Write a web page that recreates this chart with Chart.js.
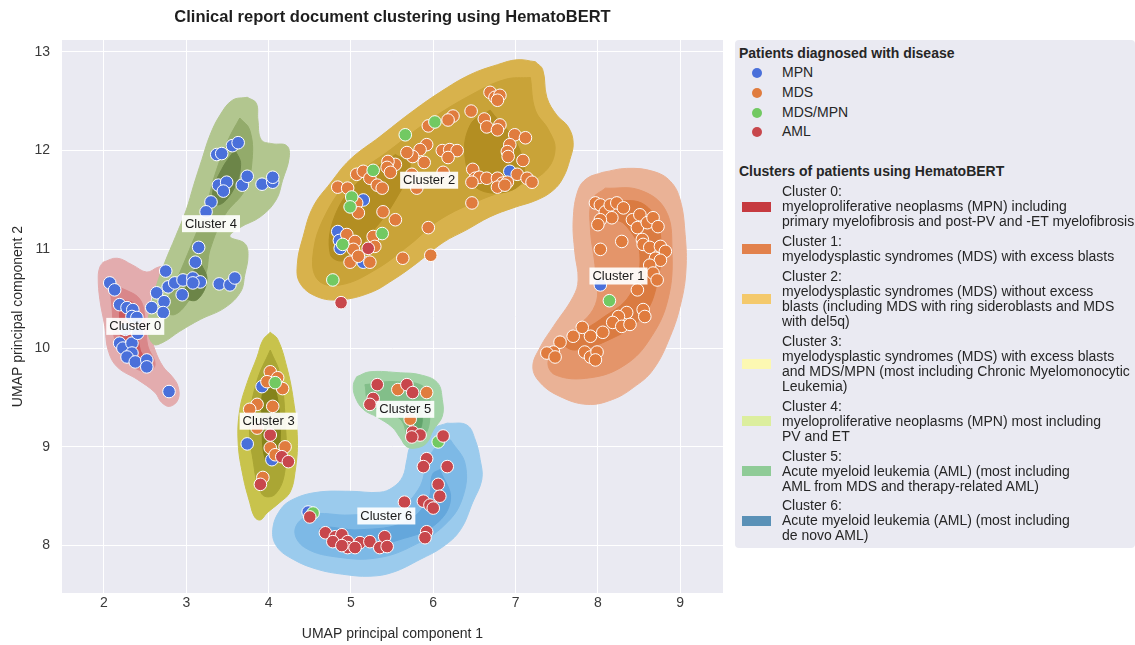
<!DOCTYPE html>
<html>
<head>
<meta charset="utf-8">
<title>Clinical report document clustering using HematoBERT</title>
<script src="https://cdn.jsdelivr.net/npm/chart.js@4.4.1/dist/chart.umd.min.js"></script>
<style>
  body { margin: 0; background: #fff; font-family: "Liberation Sans", Arial, sans-serif; }
  #wrap { position: relative; width: 1135px; height: 645px; }
  #legend { position: absolute; left: 735px; top: 40px; width: 400px; height: 508px; background: #eaeaf2; border-radius: 4px; color: #262626; font-size: 14px; }
  .lg-head { font-weight: bold; height: 16px; line-height: 16px; padding-left: 4px; white-space: nowrap; }
  .lg-row { position: relative; height: 19.8px; line-height: 19.8px; }
  .lg-dot { position: absolute; left: 17px; top: 5px; width: 10px; height: 10px; border-radius: 50%; }
  .lg-text { position: absolute; left: 47px; white-space: nowrap; }
  .lg-entry { position: relative; margin-top: 4.9px; line-height: 15px; }
  .lg-patch { position: absolute; left: 7px; width: 29px; height: 10px; top: 50%; margin-top: -5px; }
  .lg-lines { margin-left: 47px; white-space: nowrap; }
</style>
</head>
<body>
<div id="wrap">
  <canvas id="umapChart" width="1135" height="645"></canvas>
  <div id="legend"></div>
</div>
<script>
// axis ticks
const xTickValues = [2, 3, 4, 5, 6, 7, 8, 9];
const yTickValues = [8, 9, 10, 11, 12, 13];

// patients, grouped by diagnosis: [UMAP 1, UMAP 2]
const diseases = ['MPN', 'MDS', 'MDS/MPN', 'AML'];

const mpnPoints = [
  [3.37, 11.96], [3.43, 11.97], [3.56, 12.05], [3.63, 12.08], [3.39, 11.65], [3.49, 11.68], [3.45, 11.59],
  [3.68, 11.65], [3.74, 11.74], [3.92, 11.66], [4.05, 11.68], [4.05, 11.73], [3.30, 11.48], [3.24, 11.38],
  [3.15, 11.02], [3.11, 10.87], [2.75, 10.78], [2.78, 10.62], [2.86, 10.66], [2.96, 10.69], [3.08, 10.71],
  [3.17, 10.67], [3.08, 10.66], [2.95, 10.54], [2.64, 10.56], [2.73, 10.47], [2.58, 10.41], [2.72, 10.36],
  [3.40, 10.65], [3.53, 10.64], [3.59, 10.71],
  [2.07, 10.66], [2.13, 10.59], [2.19, 10.44], [2.28, 10.41], [2.35, 10.39], [2.34, 10.32], [2.40, 10.31],
  [2.19, 10.05], [2.23, 10.00], [2.34, 10.05], [2.34, 9.95], [2.28, 9.91], [2.38, 9.86], [2.52, 9.88],
  [2.52, 9.81], [2.41, 10.15], [2.79, 9.56], [2.26, 10.19],
  [6.93, 11.79], [5.15, 11.50], [4.84, 11.18], [4.86, 11.09], [4.87, 11.01], [5.15, 10.87],
  [8.03, 10.64],
  [3.92, 9.61], [3.74, 9.03], [4.04, 8.87],
  [4.48, 8.34]
];

const mdsPoints = [
  [6.69, 12.59], [6.75, 12.54], [6.81, 12.56], [6.78, 12.51], [6.46, 12.40], [6.24, 12.35], [6.18, 12.31],
  [5.94, 12.25], [6.62, 12.32], [6.65, 12.24], [6.81, 12.26], [6.78, 12.21], [6.99, 12.16], [7.12, 12.13],
  [6.93, 12.06], [6.90, 11.99], [6.91, 11.94], [7.09, 11.90], [5.92, 12.06], [5.84, 12.01], [5.75, 11.94],
  [5.68, 11.98], [5.89, 11.88], [6.11, 12.00], [6.20, 12.01], [6.29, 12.00], [6.18, 11.93], [5.54, 11.86],
  [5.45, 11.89], [5.44, 11.83], [5.48, 11.78], [5.74, 11.76], [6.12, 11.78], [6.48, 11.81], [6.51, 11.72],
  [6.56, 11.73], [6.65, 11.72], [6.47, 11.68], [6.78, 11.72], [6.84, 11.67], [6.90, 11.68], [7.02, 11.76],
  [7.14, 11.72], [7.20, 11.68], [6.78, 11.63], [6.87, 11.65], [5.07, 11.76], [5.15, 11.79], [5.23, 11.72],
  [5.32, 11.65], [5.38, 11.62], [4.84, 11.63], [4.96, 11.62], [5.80, 11.62], [5.07, 11.47], [5.09, 11.37],
  [5.39, 11.38], [5.54, 11.30], [5.94, 11.22], [6.47, 11.47], [4.95, 11.15], [5.05, 11.08], [5.03, 11.00],
  [5.27, 11.13], [5.29, 11.03], [5.23, 10.87], [4.99, 10.87], [5.09, 10.93], [5.63, 10.91], [5.97, 10.94],
  [7.97, 11.47], [8.03, 11.45], [8.09, 11.38], [8.15, 11.45], [8.23, 11.47], [8.31, 11.42], [8.17, 11.32],
  [8.03, 11.30], [8.00, 11.25], [8.42, 11.30], [8.51, 11.35], [8.48, 11.22], [8.60, 11.27], [8.67, 11.32],
  [8.73, 11.23], [8.29, 11.08], [8.54, 11.10], [8.55, 11.05], [8.63, 11.02], [8.76, 11.03], [8.82, 10.98],
  [8.70, 10.91], [8.76, 10.89], [8.03, 11.00], [8.63, 10.84], [8.67, 10.76], [8.72, 10.69], [8.48, 10.59],
  [8.55, 10.39], [8.57, 10.32], [8.35, 10.36], [8.25, 10.32], [8.18, 10.26], [8.29, 10.22], [8.39, 10.24],
  [8.06, 10.16], [7.91, 10.12], [7.81, 10.21], [7.70, 10.12], [7.54, 10.06], [7.46, 9.96], [7.38, 9.95],
  [7.48, 9.91], [7.84, 9.96], [7.91, 9.91], [7.99, 9.96], [7.97, 9.88],
  [4.02, 9.76], [4.11, 9.70], [3.98, 9.66], [4.17, 9.59], [3.86, 9.43], [4.05, 9.41], [3.77, 9.38],
  [3.86, 9.19], [4.02, 8.99], [4.20, 9.00], [3.93, 8.69], [4.08, 8.92],
  [5.57, 9.58], [5.92, 9.55], [5.72, 9.28]
];

const mdsMpnPoints = [
  [5.66, 12.16], [6.02, 12.29], [5.27, 11.80], [5.01, 11.53], [4.99, 11.43], [5.38, 11.16], [4.90, 11.05],
  [4.78, 10.69], [8.14, 10.48], [4.08, 9.65], [6.06, 9.05], [4.54, 8.33]
];

const amlPoints = [
  [5.21, 11.01], [4.88, 10.46],
  [3.90, 8.62], [4.02, 9.12], [4.16, 8.90], [4.24, 8.85],
  [5.32, 9.63], [5.68, 9.63], [5.75, 9.55], [5.27, 9.49], [5.23, 9.43], [5.75, 9.15], [5.84, 9.12], [5.74, 9.10],
  [6.12, 9.11], [5.92, 8.88], [5.88, 8.80], [6.17, 8.80], [6.06, 8.62], [6.08, 8.50], [5.88, 8.45], [5.96, 8.41],
  [6.00, 8.38], [5.65, 8.44], [5.92, 8.14], [5.90, 8.08], [4.50, 8.29], [4.69, 8.13], [4.81, 8.09], [4.89, 8.11],
  [4.78, 8.04], [4.96, 8.04], [4.96, 7.98], [5.11, 8.03], [5.23, 8.04], [5.35, 7.98], [5.41, 8.09], [5.44, 7.99],
  [5.05, 7.98], [4.89, 8.00]
];

// clusters
const clusterNames = ['Cluster 0', 'Cluster 1', 'Cluster 2', 'Cluster 3', 'Cluster 4', 'Cluster 5', 'Cluster 6'];
const clusterDescriptions = [
  ['myeloproliferative neoplasms (MPN) including', 'primary myelofibrosis and post-PV and -ET myelofibrosis'],
  ['myelodysplastic syndromes (MDS) with excess blasts'],
  ['myelodysplastic syndromes (MDS) without excess', 'blasts (including MDS with ring sideroblasts and MDS', 'with del5q)'],
  ['myelodysplastic syndromes (MDS) with excess blasts', 'and MDS/MPN (most including Chronic Myelomonocytic', 'Leukemia)'],
  ['myeloproliferative neoplasms (MPN) most including', 'PV and ET'],
  ['Acute myeloid leukemia (AML) (most including', 'AML from MDS and therapy-related AML)'],
  ['Acute myeloid leukemia (AML) (most including', 'de novo AML)']
];
const clusterCentres = [[2.38, 10.22], [8.25, 10.73], [5.95, 11.70], [4.00, 9.26], [3.30, 11.26], [5.66, 9.38], [5.43, 8.30]];

// density contour levels per cluster, outer -> inner
const cluster0Levels = [
  [[1.99, 10.87], [2.16, 10.91], [2.35, 10.84], [2.52, 10.77], [2.66, 10.82], [2.74, 10.82], [2.68, 10.69], [2.58, 10.56],
   [2.56, 10.36], [2.58, 10.12], [2.62, 9.98], [2.72, 9.81], [2.83, 9.71], [2.90, 9.61], [2.90, 9.48], [2.80, 9.41],
   [2.70, 9.45], [2.62, 9.55], [2.41, 9.68], [2.16, 9.81], [2.05, 9.98], [2.01, 10.22], [1.95, 10.49], [1.93, 10.72], [1.95, 10.82]],
  [[2.07, 10.64], [2.26, 10.59], [2.44, 10.49], [2.50, 10.29], [2.53, 10.03], [2.62, 9.83], [2.50, 9.76], [2.26, 9.88],
   [2.13, 10.09], [2.10, 10.39]],
  [[2.19, 10.49], [2.38, 10.44], [2.41, 10.24], [2.44, 9.98], [2.53, 9.86], [2.34, 9.84], [2.22, 10.03], [2.19, 10.29]]
];
const cluster1Levels = [
  [[8.06, 11.78], [8.35, 11.82], [8.67, 11.79], [8.88, 11.69], [9.00, 11.50], [9.06, 11.15], [9.07, 10.79], [9.01, 10.46],
   [8.88, 10.12], [8.67, 9.78], [8.43, 9.60], [8.18, 9.48], [7.87, 9.43], [7.54, 9.51], [7.30, 9.65], [7.21, 9.81],
   [7.30, 10.01], [7.46, 10.22], [7.70, 10.52], [7.76, 10.69], [7.72, 10.97], [7.70, 11.30], [7.76, 11.60], [7.87, 11.72]],
  [[8.09, 11.62], [8.51, 11.60], [8.82, 11.40], [8.90, 11.00], [8.85, 10.49], [8.63, 10.09], [8.33, 9.83], [7.91, 9.70],
   [7.48, 9.73], [7.40, 9.88], [7.66, 10.14], [7.97, 10.44], [7.97, 10.79], [7.91, 11.20], [7.93, 11.50]],
  [[8.15, 11.50], [8.57, 11.45], [8.76, 11.15], [8.70, 10.59], [8.51, 10.29], [8.15, 10.09], [7.72, 9.98], [7.60, 10.05],
   [8.03, 10.29], [8.39, 10.54], [8.51, 10.95], [8.33, 11.25], [8.09, 11.35]]
];
const cluster2Levels = [
  [[7.24, 12.90], [7.33, 12.82], [7.38, 12.54], [7.50, 12.36], [7.64, 12.24], [7.70, 12.08], [7.66, 11.91], [7.58, 11.73],
   [7.46, 11.60], [7.26, 11.50], [6.97, 11.42], [6.69, 11.33], [6.41, 11.20], [6.12, 11.07], [5.80, 10.86], [5.51, 10.69],
   [5.23, 10.56], [4.87, 10.49], [4.59, 10.52], [4.38, 10.66], [4.35, 10.86], [4.42, 11.13], [4.54, 11.43], [4.75, 11.67],
   [4.99, 11.91], [5.35, 12.14], [5.72, 12.38], [6.08, 12.59], [6.45, 12.77], [6.78, 12.87], [7.02, 12.92]],
  [[7.18, 12.74], [7.24, 12.41], [7.40, 12.21], [7.48, 12.01], [7.36, 11.79], [7.05, 11.65], [6.57, 11.50], [6.08, 11.30],
   [5.72, 11.05], [5.29, 10.79], [4.87, 10.64], [4.60, 10.69], [4.54, 10.95], [4.69, 11.35], [4.99, 11.70], [5.48, 12.01],
   [5.96, 12.31], [6.45, 12.56], [6.87, 12.72]],
  [[5.54, 11.96], [5.72, 11.86], [5.54, 11.50], [5.23, 11.15], [4.93, 10.89], [4.75, 10.95], [4.81, 11.35], [5.11, 11.70]],
  [[6.69, 12.41], [7.05, 12.01], [7.05, 11.65], [6.57, 11.60], [6.39, 11.91], [6.45, 12.26]]
];
const cluster3Levels = [
  [[4.02, 10.16], [4.11, 10.09], [4.22, 9.81], [4.30, 9.48], [4.35, 9.07], [4.32, 8.74], [4.26, 8.54], [4.14, 8.44],
   [3.98, 8.33], [3.90, 8.26], [3.83, 8.29], [3.77, 8.44], [3.69, 8.70], [3.63, 9.04], [3.65, 9.38], [3.74, 9.65],
   [3.86, 9.91], [3.93, 10.08]],
  [[4.02, 9.98], [4.14, 9.73], [4.20, 9.28], [4.20, 8.77], [4.08, 8.52], [3.92, 8.52], [3.81, 8.87], [3.77, 9.27], [3.86, 9.67]],
  [[4.02, 9.73], [4.11, 9.48], [4.14, 9.07], [4.08, 8.82], [3.96, 8.87], [3.92, 9.27], [3.93, 9.57]]
];
const cluster4Levels = [
  [[3.74, 12.54], [3.85, 12.48], [3.87, 12.31], [3.91, 12.11], [4.04, 12.07], [4.22, 12.05], [4.25, 11.93], [4.17, 11.70],
   [4.09, 11.50], [3.90, 11.33], [3.65, 11.22], [3.53, 11.13], [3.71, 11.06], [3.75, 10.94], [3.71, 10.74], [3.66, 10.57],
   [3.47, 10.41], [3.17, 10.29], [2.92, 10.17], [2.72, 10.06], [2.60, 10.04], [2.53, 10.19], [2.56, 10.39], [2.64, 10.64],
   [2.74, 10.87], [2.87, 11.13], [3.00, 11.40], [3.09, 11.65], [3.19, 11.91], [3.29, 12.16], [3.41, 12.36], [3.56, 12.51]],
  [[3.65, 12.33], [3.77, 12.21], [3.80, 11.91], [3.71, 11.60], [3.47, 11.35], [3.29, 11.00], [3.23, 10.74], [3.04, 10.49],
   [2.86, 10.34], [2.74, 10.39], [2.86, 10.64], [3.04, 11.00], [3.23, 11.40], [3.35, 11.76], [3.51, 12.11]],
  [[3.59, 12.01], [3.66, 11.86], [3.57, 11.60], [3.39, 11.45], [3.32, 11.57], [3.43, 11.81]],
  [[3.17, 10.87], [3.25, 10.69], [3.13, 10.49], [2.99, 10.52], [3.04, 10.71]]
];
const cluster5Levels = [
  [[5.07, 9.71], [5.23, 9.76], [5.60, 9.75], [5.84, 9.73], [6.05, 9.65], [6.11, 9.48], [6.11, 9.31], [6.00, 9.17],
   [5.92, 9.04], [5.80, 8.99], [5.68, 9.00], [5.60, 9.09], [5.50, 9.20], [5.32, 9.30], [5.15, 9.38], [5.05, 9.51], [5.03, 9.63]],
  [[5.17, 9.63], [5.54, 9.66], [5.90, 9.60], [5.96, 9.38], [5.90, 9.12], [5.72, 9.07], [5.60, 9.28], [5.23, 9.43]],
  [[5.66, 9.43], [5.84, 9.38], [5.84, 9.17], [5.72, 9.15]]
];
const cluster6Levels = [
  [[6.17, 9.24], [6.41, 9.22], [6.51, 9.07], [6.57, 8.87], [6.59, 8.67], [6.48, 8.44], [6.33, 8.16], [6.12, 7.99],
   [5.84, 7.86], [5.51, 7.73], [5.23, 7.69], [4.90, 7.71], [4.59, 7.76], [4.30, 7.86], [4.10, 7.99], [4.05, 8.16],
   [4.14, 8.36], [4.30, 8.47], [4.59, 8.54], [4.99, 8.55], [5.35, 8.54], [5.51, 8.59], [5.63, 8.70], [5.68, 8.87],
   [5.72, 9.00], [5.84, 9.10], [6.00, 9.19]],
  [[6.21, 9.07], [6.39, 8.82], [6.35, 8.47], [6.14, 8.21], [5.78, 8.01], [5.35, 7.88], [4.87, 7.88], [4.44, 7.98],
   [4.32, 8.16], [4.50, 8.31], [4.99, 8.31], [5.54, 8.36], [5.82, 8.57], [5.94, 8.87], [6.06, 9.02]],
  [[6.08, 8.77], [6.21, 8.47], [6.02, 8.21], [5.59, 8.06], [5.11, 7.98], [4.69, 8.06], [4.63, 8.18], [5.11, 8.16],
   [5.66, 8.24], [5.94, 8.47], [5.99, 8.72]]
];

// styles
const fontFamily = '"Liberation Sans", Arial, sans-serif';
const diseaseColors = ['#4a70da', '#e07c3e', '#72c962', '#c8474c'];
const clusterLegendColors = ['#c63a40', '#e2814c', '#f4c96c', '#fcf8b2', '#dcee9e', '#8fcb97', '#5a91b7'];
const clusterShades = [
  ['#e3acae', '#d9878a', '#cd5a5e'],
  ['#eab296', '#e4956a', '#da7b41'],
  ['#d8b24c', '#c9a338', '#b38e22', '#b38e22'],
  ['#c8c34c', '#aaa634', '#85831b'],
  ['#b2c68f', '#93ab6b', '#6c8548', '#6c8548'],
  ['#a2d3a6', '#82be89', '#62a46c'],
  ['#9bcbed', '#7db9e6', '#64a7dc']
];
const clusterLevels = [cluster0Levels, cluster1Levels, cluster2Levels, cluster3Levels, cluster4Levels, cluster5Levels, cluster6Levels];
const paintOrder = [6, 1, 2, 3, 0, 4, 5];

function closedShape(poly) {
  const pts = poly.map(([x, y]) => ({x, y}));
  pts.push({x: poly[0][0], y: poly[0][1]});
  return pts;
}

const layers = [];
paintOrder.forEach(c => {
  clusterLevels[c].forEach((poly, i) => {
    layers.push({
      label: clusterNames[c] + ' density ' + i,
      data: closedShape(poly),
      showLine: true,
      fill: 'shape',
      tension: 0.4,
      backgroundColor: clusterShades[c][i],
      borderColor: clusterShades[c][i],
      borderWidth: 1,
      pointRadius: 0
    });
  });
});

const pointSets = [mpnPoints, mdsPoints, mdsMpnPoints, amlPoints];
pointSets.forEach((pts, i) => {
  layers.push({
    label: diseases[i],
    data: pts.map(([x, y]) => ({x, y})),
    backgroundColor: diseaseColors[i],
    borderColor: '#ffffff',
    borderWidth: 1,
    pointRadius: 6.3
  });
});
// first layer painted first
layers.forEach((ds, i) => { ds.order = layers.length - i; });

const plotBackground = {
  id: 'plotBackground',
  beforeDraw(chart) {
    const {ctx, chartArea: a} = chart;
    ctx.save();
    ctx.fillStyle = '#eaeaf2';
    ctx.fillRect(a.left, a.top, a.right - a.left, a.bottom - a.top);
    ctx.restore();
  }
};

const clusterTags = {
  id: 'clusterTags',
  afterDatasetsDraw(chart) {
    const {ctx, scales: {x, y}} = chart;
    ctx.save();
    ctx.font = '13px ' + fontFamily;
    ctx.textAlign = 'center';
    ctx.textBaseline = 'middle';
    clusterNames.forEach((name, i) => {
      const px = x.getPixelForValue(clusterCentres[i][0]);
      const py = y.getPixelForValue(clusterCentres[i][1]);
      const w = ctx.measureText(name).width + 6;
      ctx.fillStyle = 'rgba(255,255,255,0.92)';
      ctx.fillRect(px - w / 2, py - 8.5, w, 17);
      ctx.fillStyle = '#1a1a1a';
      ctx.fillText(name, px, py + 0.5);
    });
    ctx.restore();
  }
};

new Chart(document.getElementById('umapChart'), {
  type: 'scatter',
  data: { datasets: layers },
  options: {
    responsive: false,
    animation: false,
    events: [],
    layout: { padding: { left: 0, right: 412, top: 0, bottom: 0 } },
    plugins: {
      legend: { display: false },
      tooltip: { enabled: false },
      title: {
        display: true,
        fullSize: false,
        text: 'Clinical report document clustering using HematoBERT',
        color: '#1e1e1e',
        font: { family: fontFamily, size: 16.5, weight: 'bold' },
        padding: { top: 8, bottom: 12.2 }
      }
    },
    scales: {
      x: {
        type: 'linear',
        min: 1.49,
        max: 9.52,
        afterBuildTicks: axis => { axis.ticks = xTickValues.map(v => ({value: v})); },
        afterFit: axis => { axis.height = 52; },
        grid: { color: '#ffffff', lineWidth: 1, drawTicks: false },
        border: { display: false },
        ticks: { color: '#3a3a3a', padding: 2, font: { family: fontFamily, size: 14 } },
        title: {
          display: true,
          text: 'UMAP principal component 1',
          color: '#2a2a2a',
          font: { family: fontFamily, size: 14 },
          padding: { top: 0, bottom: 2.6 }
        }
      },
      y: {
        type: 'linear',
        min: 7.52,
        max: 13.12,
        afterBuildTicks: axis => { axis.ticks = yTickValues.map(v => ({value: v})); },
        afterFit: axis => { axis.width = 62; },
        grid: { color: '#ffffff', lineWidth: 1, drawTicks: false },
        border: { display: false },
        ticks: { color: '#3a3a3a', padding: 12, font: { family: fontFamily, size: 14 } },
        title: {
          display: true,
          text: 'UMAP principal component 2',
          color: '#2a2a2a',
          font: { family: fontFamily, size: 14 },
          padding: { top: 10, bottom: 0 }
        }
      }
    }
  },
  plugins: [plotBackground, clusterTags]
});

// legend
const legend = document.getElementById('legend');
let html = '<div class="lg-head" style="margin-top:5px">Patients diagnosed with disease</div><div style="margin-top:2px">';
diseases.forEach((d, i) => {
  html += '<div class="lg-row"><span class="lg-dot" style="background:' + diseaseColors[i] + '"></span><span class="lg-text">' + d + '</span></div>';
});
html += '</div><div class="lg-head" style="margin-top:21px">Clusters of patients using HematoBERT</div>';
clusterNames.forEach((name, i) => {
  html += '<div class="lg-entry"><span class="lg-patch" style="background:' + clusterLegendColors[i] + '"></span><div class="lg-lines">' +
    [name + ':'].concat(clusterDescriptions[i]).join('<br>') + '</div></div>';
});
legend.innerHTML = html;
</script>
</body>
</html>
